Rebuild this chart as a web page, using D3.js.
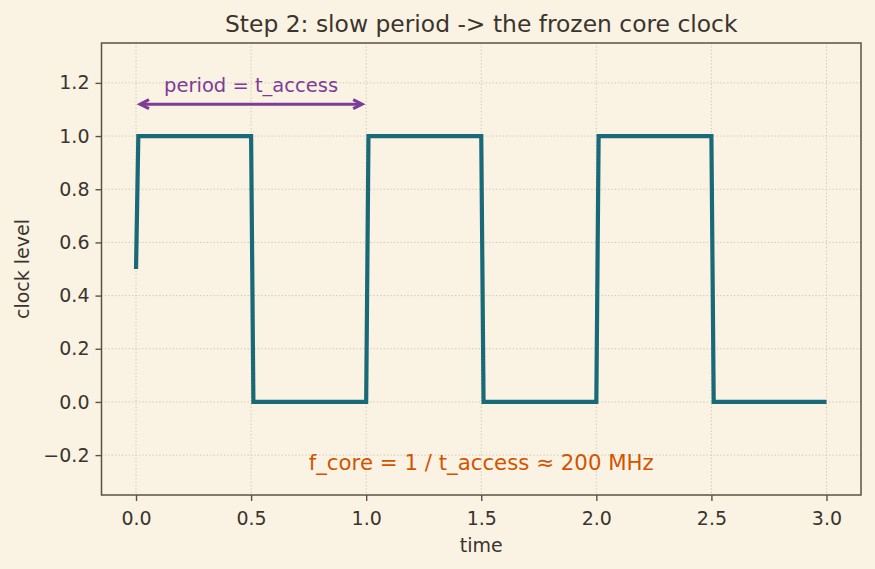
<!DOCTYPE html>
<html>
<head>
<meta charset="utf-8">
<script src="https://cdn.jsdelivr.net/npm/d3@7"></script>
<style>
  html, body { margin: 0; padding: 0; background: #faf3e3; }
  svg { display: block; }
  text { font-family: "DejaVu Sans", sans-serif; }
</style>
</head>
<body>
<div id="chart"></div>
<script>
// ---- data ----
const timePoints  = [0.0, 0.01, 0.5, 0.51, 1.0, 1.01, 1.5, 1.51, 2.0, 2.01, 2.5, 2.51, 3.0];
const clockLevels = [0.5, 1.0, 1.0, 0.0, 0.0, 1.0, 1.0, 0.0, 0.0, 1.0, 1.0, 0.0, 0.0];
const xTicks = [0.0, 0.5, 1.0, 1.5, 2.0, 2.5, 3.0];
const yTicks = [-0.2, 0.0, 0.2, 0.4, 0.6, 0.8, 1.0, 1.2];
const titleText = "Step 2: slow period -> the frozen core clock";
const xLabel = "time";
const yLabel = "clock level";
const periodArrow = { x0: 0.0, x1: 1.0, y: 1.12 };
const periodLabel = { text: "period = t_access", x: 0.5, y: 1.167 };
const freqLabel = { text: "f_core = 1 / t_access \u2248 200 MHz", x: 1.5, y: -0.256 };

// ---- layout ----
const W = 875, H = 569;
const L = 101.5, R = 861, T = 43, B = 495;
const bg = "#faf3e3", ink = "#3b342d", spine = "#5c5046", gridC = "#cdc2ad";
const teal = "#186a78", purple = "#7d3c98", orange = "#d35400";

const svg = d3.select("#chart").append("svg").attr("width", W).attr("height", H);
svg.append("rect").attr("width", W).attr("height", H).attr("fill", bg);

const x = d3.scaleLinear().domain([-0.15, 3.15]).range([L, R]);
const y = d3.scaleLinear().domain([-0.35, 1.35]).range([B, T]);

// grid
const grid = svg.append("g");
grid.selectAll("line.gx").data(xTicks).join("line")
  .attr("x1", d => x(d)).attr("x2", d => x(d)).attr("y1", T).attr("y2", B)
  .attr("stroke", gridC).attr("stroke-width", 1).attr("stroke-dasharray", "1.2,2.2");
grid.selectAll("line.gy").data(yTicks).join("line")
  .attr("y1", d => y(d)).attr("y2", d => y(d)).attr("x1", L).attr("x2", R)
  .attr("stroke", gridC).attr("stroke-width", 1).attr("stroke-dasharray", "1.2,2.2");

// axes
const fmt = d3.format(".1f");
const xAxis = svg.append("g").attr("transform", `translate(0,${B})`)
  .call(d3.axisBottom(x).tickValues(xTicks).tickFormat(fmt).tickSize(6).tickPadding(6));
const yAxis = svg.append("g").attr("transform", `translate(${L},0)`)
  .call(d3.axisLeft(y).tickValues(yTicks).tickFormat(fmt).tickSize(6).tickPadding(6));
[xAxis, yAxis].forEach(a => {
  a.select(".domain").remove();
  a.selectAll(".tick line").attr("stroke", spine).attr("stroke-width", 1.4);
  a.selectAll(".tick text").attr("fill", ink).style("font-size", "19px")
    .style("font-family", "DejaVu Sans, sans-serif");
});
xAxis.selectAll(".tick text").attr("dy", "0.93em");

// line
const lineGen = d3.line().x(d => x(d[0])).y(d => y(d[1]));
const pts = timePoints.map((t, i) => [t, clockLevels[i]]);
svg.append("path").datum(pts).attr("d", lineGen)
  .attr("fill", "none").attr("stroke", teal).attr("stroke-width", 4.2)
  .attr("stroke-linejoin", "miter");

// spines
svg.append("rect").attr("x", L).attr("y", T).attr("width", R - L).attr("height", B - T)
  .attr("fill", "none").attr("stroke", spine).attr("stroke-width", 1.5);

// period arrow
const ay = y(periodArrow.y);
const ax0 = x(periodArrow.x0) + 4, ax1 = x(periodArrow.x1) - 4;
svg.append("line").attr("x1", ax0 + 2).attr("x2", ax1 - 2).attr("y1", ay).attr("y2", ay)
  .attr("stroke", purple).attr("stroke-width", 3);
svg.append("path")
  .attr("d", `M${ax0 + 9},${ay - 4.5} L${ax0},${ay} L${ax0 + 9},${ay + 4.5}`)
  .attr("fill", "none").attr("stroke", purple).attr("stroke-width", 3).attr("stroke-linejoin", "miter");
svg.append("path")
  .attr("d", `M${ax1 - 9},${ay - 4.5} L${ax1},${ay} L${ax1 - 9},${ay + 4.5}`)
  .attr("fill", "none").attr("stroke", purple).attr("stroke-width", 3).attr("stroke-linejoin", "miter");
svg.append("text").attr("x", x(periodLabel.x)).attr("y", y(periodLabel.y))
  .attr("text-anchor", "middle").attr("fill", purple).style("font-size", "19.5px")
  .text(periodLabel.text);

// freq label
svg.append("text").attr("x", x(freqLabel.x)).attr("y", y(freqLabel.y))
  .attr("text-anchor", "middle").attr("fill", orange).style("font-size", "21.3px")
  .text(freqLabel.text);

// title & labels
svg.append("text").attr("x", (L + R) / 2).attr("y", 31.5).attr("text-anchor", "middle")
  .attr("fill", ink).style("font-size", "23.4px").text(titleText);
svg.append("text").attr("x", (L + R) / 2).attr("y", 552).attr("text-anchor", "middle")
  .attr("fill", ink).style("font-size", "19px").text(xLabel);
svg.append("text").attr("transform", `translate(28.5,${(T + B) / 2}) rotate(-90)`)
  .attr("text-anchor", "middle").attr("fill", ink).style("font-size", "19px").text(yLabel);
</script>
</body>
</html>
